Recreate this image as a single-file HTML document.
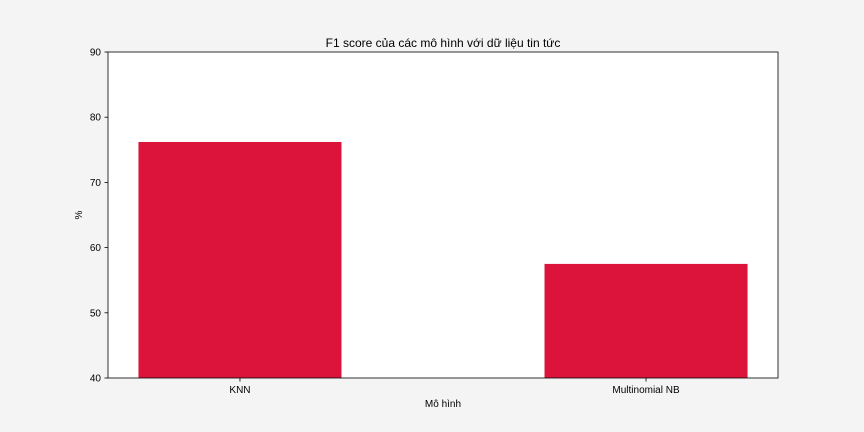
<!DOCTYPE html>
<html><head><meta charset="utf-8"><style>
body{margin:0;background:#f4f4f4;}
svg{display:block;font-family:"Liberation Sans","DejaVu Sans",sans-serif;}
</style></head><body>
<svg id="chart" width="864" height="432">
<rect x="0" y="0" width="864" height="432" fill="#f4f4f4"/>
<rect x="108" y="52" width="670" height="326" fill="#fff"/>
<g id="bars"></g>
<g id="yticks"></g>
<g id="xticks"></g>
<rect x="108" y="52" width="670" height="326" fill="none" stroke="#000" stroke-width="0.8"/>
<text x="443" y="47" text-anchor="middle" font-size="12">F1 score của các mô hình với dữ liệu tin tức</text>
<text x="443" y="407" text-anchor="middle" font-size="10">Mô hình</text>
<text x="82" y="215" text-anchor="middle" font-size="10" transform="rotate(-90 82 215)">%</text>
</svg>
<script>
const categories = ["KNN", "Multinomial NB"];
const f1Values = [76.2, 57.5];
const yTickLabels = [40, 50, 60, 70, 80, 90];
const NS = "http://www.w3.org/2000/svg";
const x0 = 108, x1 = 778, yTop = 52, yBot = 378;
const xMin = -0.325, xMax = 1.325, yMin = 40, yMax = 90;
const xs = v => x0 + (v - xMin) / (xMax - xMin) * (x1 - x0);
const ys = v => yBot - (v - yMin) / (yMax - yMin) * (yBot - yTop);
const barW = 0.5;
const bars = document.getElementById("bars");
categories.forEach((c, i) => {
  const r = document.createElementNS(NS, "rect");
  r.setAttribute("x", xs(i - barW / 2));
  r.setAttribute("width", xs(i + barW / 2) - xs(i - barW / 2));
  r.setAttribute("y", ys(f1Values[i]));
  r.setAttribute("height", ys(yMin) - ys(f1Values[i]));
  r.setAttribute("fill", "#dc143c");
  
  
  bars.appendChild(r);
});
const xt = document.getElementById("xticks");
categories.forEach((c, i) => {
  const l = document.createElementNS(NS, "line");
  l.setAttribute("x1", xs(i)); l.setAttribute("x2", xs(i));
  l.setAttribute("y1", yBot); l.setAttribute("y2", yBot + 3.5);
  l.setAttribute("stroke", "#000"); l.setAttribute("stroke-width", "0.8");
  
  
  xt.appendChild(l);
  const t = document.createElementNS(NS, "text");
  t.setAttribute("x", xs(i)); t.setAttribute("y", yBot + 15);
  t.setAttribute("text-anchor", "middle"); t.setAttribute("font-size", "10");
  t.textContent = c;
  
  
  xt.appendChild(t);
});
const yt = document.getElementById("yticks");
yTickLabels.forEach(v => {
  const l = document.createElementNS(NS, "line");
  l.setAttribute("x1", x0 - 3.5); l.setAttribute("x2", x0);
  l.setAttribute("y1", ys(v)); l.setAttribute("y2", ys(v));
  l.setAttribute("stroke", "#000"); l.setAttribute("stroke-width", "0.8");
  
  
  yt.appendChild(l);
  const t = document.createElementNS(NS, "text");
  t.setAttribute("x", x0 - 7); t.setAttribute("y", ys(v) + 3.5);
  t.setAttribute("text-anchor", "end"); t.setAttribute("font-size", "10");
  t.textContent = v;
  
  
  yt.appendChild(t);
});
</script>
</body></html>
